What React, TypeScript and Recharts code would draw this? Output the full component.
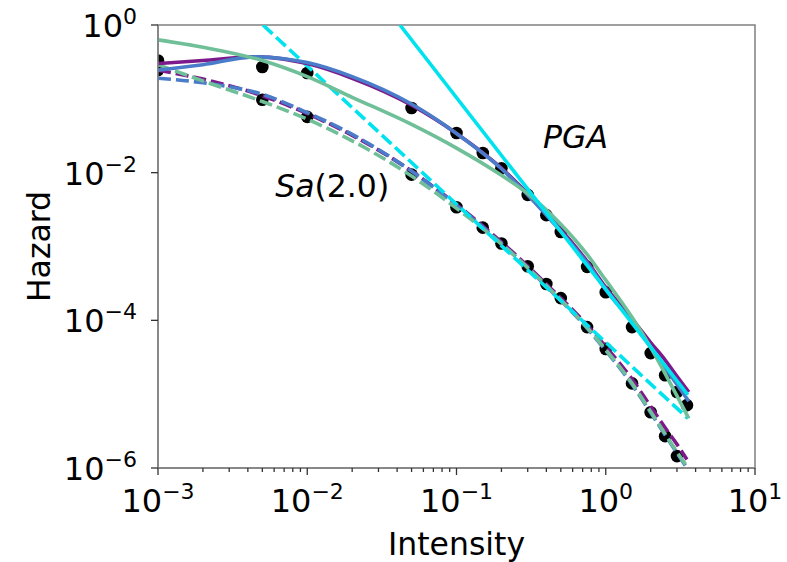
import React from 'react';
import {
  ComposedChart,
  Line,
  Scatter,
  XAxis,
  YAxis,
  ReferenceArea,
  ReferenceDot,
} from 'recharts';

// ---------- data ----------
const intensityPoints = [0.001, 0.005, 0.01, 0.05, 0.1, 0.15, 0.2, 0.3, 0.4, 0.5, 0.75, 1.0, 1.5, 2.0, 2.5, 3.0, 3.5];
const pgaHazard = [0.33, 0.27, 0.224, 0.075, 0.0344, 0.0185, 0.0115, 0.005, 0.00266, 0.00157, 5.3e-4, 2.4e-4, 8.1e-5, 3.6e-5, 1.8e-5, 1.07e-5, 7.1e-6];
const saIntensity = [0.001, 0.005, 0.01, 0.05, 0.1, 0.15, 0.2, 0.3, 0.4, 0.5, 0.75, 1.0, 1.5, 2.0, 2.5, 3.0];
const saHazard = [0.245, 0.097, 0.057, 0.0094, 0.0034, 0.0018, 0.0011, 5.4e-4, 3.1e-4, 2.0e-4, 8.1e-5, 4.1e-5, 1.4e-5, 5.7e-6, 2.7e-6, 1.45e-6];

// fitted curves (PGA, solid)
const fitX = [0.001, 0.002, 0.0045, 0.007, 0.01, 0.02, 0.05, 0.1, 0.2, 0.3, 0.5, 0.75, 1.0, 1.5, 2.0, 2.5, 3.0, 3.6];
const pgaPurple = [0.30, 0.33, 0.37, 0.345, 0.30, 0.19, 0.082, 0.034, 0.0115, 0.0052, 0.0017, 6.3e-4, 2.8e-4, 1.05e-4, 5.0e-5, 2.9e-5, 1.75e-5, 1.07e-5];
const pgaBlue = [0.245, 0.29, 0.37, 0.35, 0.31, 0.2, 0.085, 0.034, 0.0113, 0.005, 0.0016, 6.0e-4, 2.6e-4, 9.5e-5, 4.3e-5, 2.3e-5, 1.35e-5, 8.0e-6];
const pgaGreenX = [0.001, 0.002, 0.005, 0.01, 0.02, 0.05, 0.1, 0.2, 0.3, 0.5, 0.75, 1.0, 1.5, 2.0, 2.5, 3.0, 3.6];
const pgaGreen = [0.63, 0.50, 0.33, 0.2, 0.105, 0.045, 0.0215, 0.0092, 0.0052, 0.002, 7.8e-4, 3.5e-4, 1.1e-4, 4.3e-5, 1.9e-5, 9.5e-6, 4.7e-6];
const pgaCyanX = [0.0418, 3.55];
const pgaCyan = [1.0, 9.8e-6];

// fitted curves (Sa(2.0), dashed)
const saFitX = [0.001, 0.002, 0.005, 0.01, 0.02, 0.05, 0.1, 0.2, 0.4, 0.75, 1.0, 1.5, 2.0, 2.5, 3.0, 3.5];
const saPurple = [0.245, 0.185, 0.11, 0.063, 0.032, 0.0105, 0.0037, 0.00115, 3.1e-4, 8.6e-5, 4.4e-5, 1.6e-5, 6.8e-6, 3.5e-6, 2.1e-6, 1.3e-6];
const saBlue = [0.19, 0.165, 0.115, 0.065, 0.033, 0.0105, 0.0036, 0.0011, 2.9e-4, 7.8e-5, 3.9e-5, 1.35e-5, 5.6e-6, 2.8e-6, 1.6e-6, 1.0e-6];
const saGreen = [0.29, 0.175, 0.092, 0.053, 0.027, 0.009, 0.0033, 0.00108, 2.95e-4, 8.0e-5, 4.0e-5, 1.4e-5, 5.8e-6, 2.9e-6, 1.65e-6, 1.05e-6];
const saCyanX = [0.00505, 3.55];
const saCyan = [1.0, 4.7e-6];

const xMajorTicks = [0.001, 0.01, 0.1, 1, 10];
const minorMultipliers = [2, 3, 4, 5, 6, 7, 8, 9];
const yMajorTicks = [1e-6, 1e-4, 1e-2, 1];

const xLabel = 'Intensity';
const yLabel = 'Hazard';
const pgaText = 'PGA';
const saTextItalic = 'Sa';
const saTextRest = '(2.0)';
const pgaTextAt = { x: 0.38, y: 0.0215 };
const saTextAt = { x: 0.0061, y: 0.0047 };

// ---------- helpers ----------
const zip = (xs: number[], ys: number[]) => xs.map((x, i) => ({ x, y: ys[i] }));

const xMinorTicks = xMajorTicks.slice(0, -1).flatMap((d) => minorMultipliers.map((m) => +(d * m).toPrecision(6)));
const xTicks = [...xMajorTicks, ...xMinorTicks].sort((a, b) => a - b);

const COLORS = {
  purple: '#7d1a8b',
  blue: '#4a7cc9',
  green: '#6fbf98',
  cyan: '#00e3ef',
};

const FONT = 'DejaVu Sans, sans-serif';
const LW = 3.6;

const expText = (v: number) => {
  const e = Math.round(Math.log10(v));
  return e < 0 ? '\u2212' + String(-e) : String(e);
};

const isMajor = (v: number) => {
  const l = Math.log10(v);
  return Math.abs(l - Math.round(l)) < 1e-6;
};

const XTick = (props: any) => {
  const { x, y, payload } = props;
  const v = payload.value;
  const major = isMajor(v);
  return (
    <g>
      <line x1={x} x2={x} y1={y} y2={y + (major ? 7 : 4)} stroke="#333" strokeWidth={1.3} />
      {major && (
        <text x={x} y={y + 44} textAnchor="middle" fontSize={32} fill="#000" fontFamily={FONT}>
          10
          <tspan dy={-13} fontSize={22}>
            {expText(v)}
          </tspan>
        </text>
      )}
    </g>
  );
};

const YTick = (props: any) => {
  const { x, y, payload } = props;
  const v = payload.value;
  return (
    <g>
      <line x1={x - 7} x2={x} y1={y} y2={y} stroke="#333" strokeWidth={1.3} />
      <text x={x - 21} y={y + 12} textAnchor="end" fontSize={32} fill="#000" fontFamily={FONT}>
        10
        <tspan dy={-13} fontSize={22}>
          {expText(v)}
        </tspan>
      </text>
    </g>
  );
};

const DotShape = (p: any) => <circle cx={p.cx} cy={p.cy} r={6.3} fill="#000" />;

export default function App() {
  const solid = (d: any[], c: string, k: string) => (
    <Line
      key={k}
      data={d}
      dataKey="y"
      type="monotone"
      stroke={c}
      strokeWidth={LW}
      dot={false}
      activeDot={false}
      isAnimationActive={false}
      zIndex={400}
    />
  );
  const dashed = (d: any[], c: string, k: string) => (
    <Line
      key={k}
      data={d}
      dataKey="y"
      type="monotone"
      stroke={c}
      strokeWidth={LW}
      strokeDasharray="13 5"
      dot={false}
      activeDot={false}
      isAnimationActive={false}
      zIndex={400}
    />
  );

  return (
    <div style={{ position: 'absolute', left: 0, top: 0, width: 787, height: 562, background: '#fff' }}>
      <ComposedChart width={787} height={562} margin={{ top: 25, right: 32, bottom: 0, left: 0 }}>
        <XAxis
          dataKey="x"
          type="number"
          scale="log"
          domain={[0.001, 10]}
          allowDataOverflow
          ticks={xTicks}
          interval={0}
          tick={<XTick />}
          tickLine={false}
          tickSize={0}
          tickMargin={0}
          axisLine={{ stroke: '#808080', strokeWidth: 1.5 }}
          height={94}
          label={{
            content: (p: any) => {
              const vb = p.viewBox;
              return (
                <text x={vb.x + vb.width / 2} y={555} textAnchor="middle" fontSize={31.5} fill="#000" fontFamily={FONT}>
                  {xLabel}
                </text>
              );
            },
          }}
        />
        <YAxis
          dataKey="y"
          type="number"
          scale="log"
          domain={[1e-6, 1]}
          allowDataOverflow
          ticks={yMajorTicks}
          interval={0}
          tick={<YTick />}
          tickLine={false}
          tickSize={0}
          tickMargin={0}
          axisLine={{ stroke: '#808080', strokeWidth: 1.5 }}
          width={158}
          label={{
            content: (p: any) => {
              const vb = p.viewBox;
              const cy = vb.y + vb.height / 2;
              return (
                <text
                  x={50}
                  y={cy}
                  transform={`rotate(-90, 50, ${cy})`}
                  textAnchor="middle"
                  fontSize={31.5}
                  fill="#000"
                  fontFamily={FONT}
                >
                  {yLabel}
                </text>
              );
            },
          }}
        />
        <ReferenceArea x1={0.001} x2={10} y1={1e-6} y2={1} fill="none" stroke="#808080" strokeWidth={1.5} ifOverflow="visible" />
        <Scatter data={zip(intensityPoints, pgaHazard)} shape={DotShape} isAnimationActive={false} zIndex={300} />
        <Scatter data={zip(saIntensity, saHazard)} shape={DotShape} isAnimationActive={false} zIndex={300} />
        {dashed(zip(saFitX, saPurple), COLORS.purple, 'sp')}
        {dashed(zip(saFitX, saBlue), COLORS.blue, 'sb')}
        {dashed(zip(saFitX, saGreen), COLORS.green, 'sg')}
        {dashed(zip(saCyanX, saCyan), COLORS.cyan, 'sc')}
        {solid(zip(fitX, pgaPurple), COLORS.purple, 'pp')}
        {solid(zip(fitX, pgaBlue), COLORS.blue, 'pb')}
        {solid(zip(pgaGreenX, pgaGreen), COLORS.green, 'pg')}
        {solid(zip(pgaCyanX, pgaCyan), COLORS.cyan, 'pc')}
        <ReferenceDot
          x={pgaTextAt.x}
          y={pgaTextAt.y}
          r={0}
          fill="none"
          stroke="none"
          label={{
            content: (p: any) => (
              <text x={p.viewBox.x} y={p.viewBox.y} fontSize={31.5} fontStyle="italic" fill="#000" fontFamily={FONT}>
                {pgaText}
              </text>
            ),
          }}
        />
        <ReferenceDot
          x={saTextAt.x}
          y={saTextAt.y}
          r={0}
          fill="none"
          stroke="none"
          label={{
            content: (p: any) => (
              <text x={p.viewBox.x} y={p.viewBox.y} fontSize={31.5} fill="#000" fontFamily={FONT}>
                <tspan fontStyle="italic">{saTextItalic}</tspan>
                {saTextRest}
              </text>
            ),
          }}
        />
      </ComposedChart>
    </div>
  );
}
